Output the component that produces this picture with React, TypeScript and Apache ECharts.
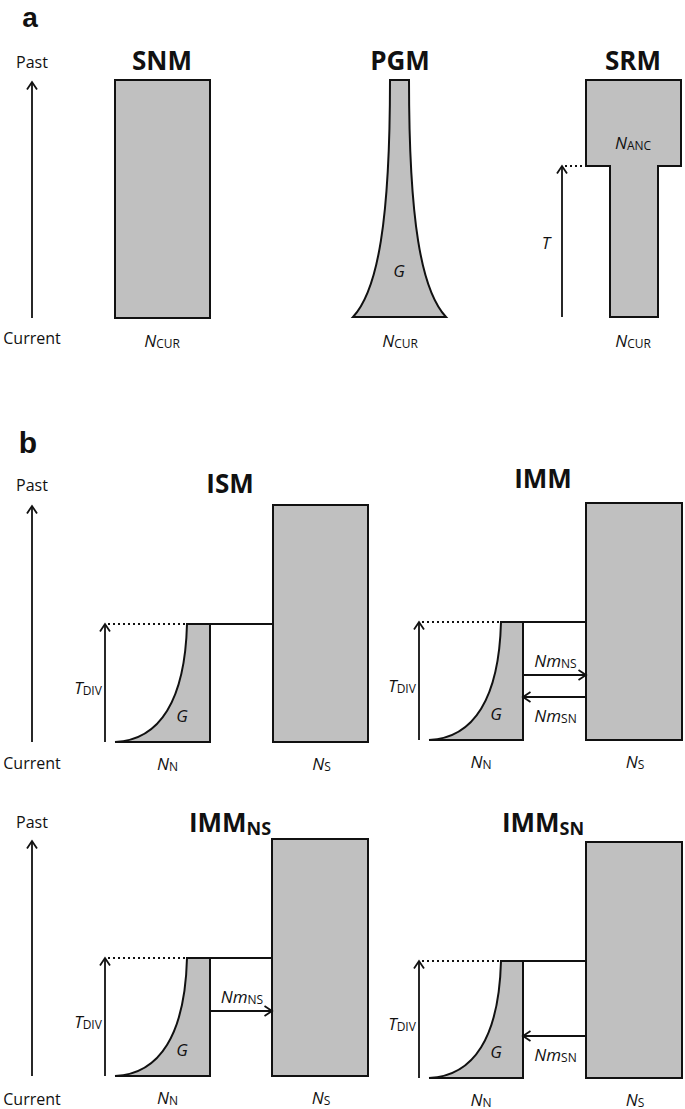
import React, { useEffect, useRef } from "react";
import * as echarts from "echarts";

const FONT = "'Open Sans', 'Noto Sans', sans-serif";
const LETTER_FONT = "'Liberation Sans', Arial, sans-serif";
const INK = "#111111";
const FILL = "#c0c0c0";

// ---- panel a ----
const aTitles = ["SNM", "PGM", "SRM"];
const aCenters = [162, 400, 633];
const aTop = 80;
const aBase = 318;
const snmRect = [115, 210];
const pgmTop = [390, 409];
const pgmBottom = [353, 446];
const srmWide = [586, 681];
const srmNeck = [610, 658];
const srmStep = 166;
const srmArrowX = 562;

// ---- panel b ----
const bTitleMain = ["ISM", "IMM", "IMM", "IMM"];
const bTitleSub = ["", "", "NS", "SN"];
const bTitleX = [230, 543, 230, 543];
const bTitleY = [483, 478, 822, 822];
const bBase = [742, 740, 1076, 1078];
const bSplit = [624, 622, 958, 961];
const bNNLeft = [115, 429, 115, 429];
const bNNTopLeft = [187, 501, 187, 501];
const bNNRight = [210, 523, 210, 523];
const bNSLeft = [273, 586, 272, 586];
const bNSRight = [368, 682, 368, 682];
const bNSTop = [505, 503, 839, 842];
const bTdivX = [105, 419, 105, 419];
const bMigNS = [false, true, true, false];
const bMigSN = [false, true, false, true];

function ln(x1: number, y1: number, x2: number, y2: number, dash?: number[], w = 1.8) {
  return {
    type: "line",
    shape: { x1, y1, x2, y2 },
    style: { stroke: INK, lineWidth: w, lineDash: dash, fill: null },
    z: 3,
  };
}
function head(x: number, y: number, dir: "up" | "left" | "right") {
  const L = 7.5, H = 5;
  let pts: number[][];
  if (dir === "up") pts = [[x - H, y + L], [x, y], [x + H, y + L]];
  else if (dir === "right") pts = [[x - L, y - H], [x, y], [x - L, y + H]];
  else pts = [[x + L, y - H], [x, y], [x + L, y + H]];
  return { type: "polyline", shape: { points: pts }, style: { stroke: INK, lineWidth: 1.8, fill: null }, z: 3 };
}
function plain(x: number, y: number, s: string, size = 16, weight: any = "normal", lh?: number, fam = FONT) {
  return {
    type: "text",
    x, y,
    style: {
      text: s, fill: INK, font: `${weight} ${size}px ${fam}`, lineHeight: lh,
      align: "center", verticalAlign: "middle", textAlign: "center", textVerticalAlign: "middle",
    },
    z: 4,
  };
}
function sub(x: number, y: number, main: string, s: string, italic = true, size = 17, subSize = 12) {
  return {
    type: "text",
    x, y,
    style: {
      text: s ? `{m|${main}}{s|${s}}` : `{m|${main}}`,
      align: "center", verticalAlign: "middle", textAlign: "center", textVerticalAlign: "middle",
      rich: {
        m: { fontFamily: FONT, fontSize: size, fontStyle: italic ? "italic" : "normal", fill: INK, lineHeight: size + 1 },
        s: { fontFamily: FONT, fontSize: subSize, fill: INK, lineHeight: subSize - 1, verticalAlign: "bottom" },
      },
    },
    z: 4,
  };
}
function title(x: number, y: number, main: string, s: string) {
  if (!s) return plain(x, y, main, 26, "bold");
  return {
    type: "text",
    x, y,
    style: {
      text: `{m|${main}}{s|${s}}`,
      align: "center", verticalAlign: "middle", textAlign: "center", textVerticalAlign: "middle",
      rich: {
        m: { fontFamily: FONT, fontSize: 26, fontWeight: "bold", fill: INK, lineHeight: 30 },
        s: { fontFamily: FONT, fontSize: 18, fontWeight: "bold", fill: INK, lineHeight: 17, verticalAlign: "bottom" },
      },
    },
    z: 4,
  };
}
let shapeCount = 0;
function pathEl(d: string) {
  const name = "shp" + shapeCount++;
  echarts.graphic.registerShape(name, echarts.graphic.extendPath(d, {}) as any);
  return { type: name, x: 0, y: 0, style: { fill: FILL, stroke: INK, lineWidth: 2 }, z: 2 };
}
function rect(x1: number, y1: number, x2: number, y2: number) {
  return {
    type: "rect",
    shape: { x: x1, y: y1, width: x2 - x1, height: y2 - y1 },
    style: { fill: FILL, stroke: INK, lineWidth: 2 },
    z: 2,
  };
}

function buildElements() {
  const els: any[] = [];
  // panel letters
  els.push(plain(30, 17, "a", 28, "bold", 28, LETTER_FONT));
  els.push(plain(28, 442, "b", 30, "bold", 30, LETTER_FONT));

  // time axes
  const axes = [
    [62, 82, 318, 338],
    [485, 506, 742, 763],
    [822, 841, 1076, 1099],
  ];
  axes.forEach(([py, top, bot, cy]) => {
    els.push(plain(32, py, "Past", 16));
    els.push(ln(32, bot, 32, top));
    els.push(head(32, top, "up"));
    els.push(plain(32, cy, "Current", 16, "normal", 18));
  });

  // panel a titles
  aTitles.forEach((t, i) => els.push(plain(aCenters[i], 60, t, 26, "bold")));
  // SNM
  els.push(rect(snmRect[0], aTop, snmRect[1], aBase));
  // PGM
  const [tl, tr] = pgmTop;
  const [bl, br] = pgmBottom;
  els.push(
    pathEl(
      `M${tl},${aTop} L${tr},${aTop} C${tr},220 ${tr + 12},290 ${br},${aBase - 1} L${bl},${aBase - 1} C${tl - 12},290 ${tl},220 ${tl},${aTop} Z`
    )
  );
  els.push(sub(399, 270, "G", "", true, 17));
  // SRM
  els.push(
    pathEl(
      `M${srmWide[0]},${aTop} L${srmWide[1]},${aTop} L${srmWide[1]},${srmStep} L${srmNeck[1]},${srmStep} L${srmNeck[1]},${aBase - 1} L${srmNeck[0]},${aBase - 1} L${srmNeck[0]},${srmStep} L${srmWide[0]},${srmStep} Z`
    )
  );
  els.push(ln(srmArrowX, aBase - 1, srmArrowX, srmStep));
  els.push(head(srmArrowX, srmStep, "up"));
  els.push(ln(srmArrowX + 3, srmStep, srmWide[0], srmStep, [2, 3]));
  els.push(sub(546, 242, "T", "", true, 17));
  els.push(sub(633, 142, "N", "ANC"));
  aCenters.forEach((c) => els.push(sub(c, 340, "N", "CUR")));

  // panel b
  for (let i = 0; i < 4; i++) {
    const base = bBase[i], top = bSplit[i];
    const L = bNNLeft[i], TL = bNNTopLeft[i], R = bNNRight[i];
    els.push(title(bTitleX[i], bTitleY[i], bTitleMain[i], bTitleSub[i]));
    els.push(rect(bNSLeft[i], bNSTop[i], bNSRight[i], base));
    els.push(
      pathEl(`M${L},${base} C${L + 45},${base - 2} ${TL - 2},${top + 76} ${TL},${top} L${R},${top} L${R},${base} Z`)
    );
    els.push(ln(R, top, bNSLeft[i], top));
    els.push(ln(bTdivX[i], base, bTdivX[i], top));
    els.push(head(bTdivX[i], top, "up"));
    els.push(ln(bTdivX[i] + 3, top, TL, top, [2, 3]));
    els.push(sub(bTdivX[i] - 17, base - 55, "T", "DIV"));
    els.push(sub(TL - 5, base - 27, "G", "", true, 17));
    els.push(sub((L + R) / 2 + 5, base + 21, "N", "N"));
    els.push(sub((bNSLeft[i] + bNSRight[i]) / 2 + 1, base + 21, "N", "S"));
    const mx = (R + bNSLeft[i]) / 2 + 1;
    if (bMigNS[i]) {
      const y = base - 65;
      els.push(ln(R, y, bNSLeft[i], y));
      els.push(head(bNSLeft[i], y, "right"));
      els.push(sub(mx, y - 15, "Nm", "NS"));
    }
    if (bMigSN[i]) {
      const y = base - 43 + (i === 3 ? 1 : 0);
      els.push(ln(bNSLeft[i], y, R, y));
      els.push(head(R, y, "left"));
      els.push(sub(mx, y + 18, "Nm", "SN"));
    }
  }
  return els;
}

export default function App() {
  const ref = useRef<HTMLDivElement>(null);
  useEffect(() => {
    document.body.style.margin = "0";
    const chart = echarts.init(ref.current!, null, { renderer: "svg" });
    chart.setOption({
      animation: false,
      backgroundColor: "#ffffff",
      graphic: { elements: buildElements() },
    });
    return () => chart.dispose();
  }, []);
  return <div ref={ref} style={{ width: 685, height: 1109 }} />;
}
